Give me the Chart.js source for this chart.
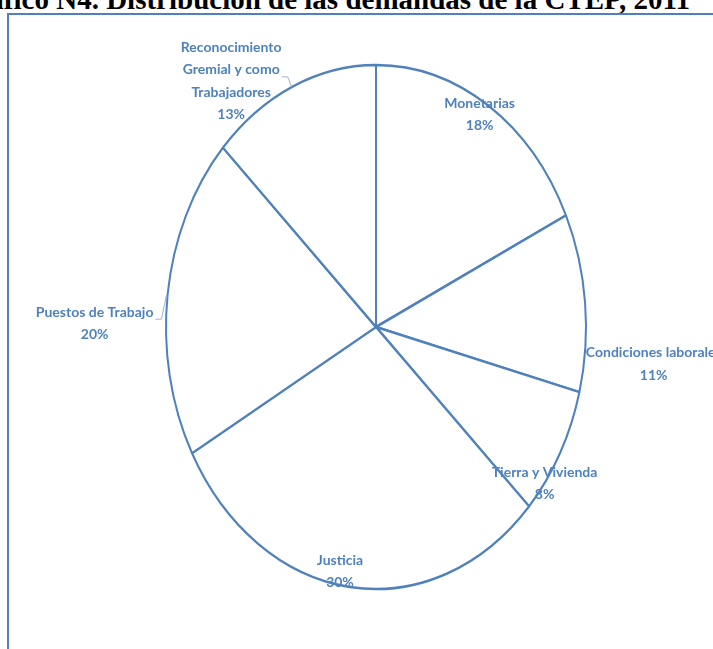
<!DOCTYPE html>
<html>
<head>
<meta charset="utf-8">
<script src="https://cdn.jsdelivr.net/npm/chart.js@4.4.1/dist/chart.umd.min.js"></script>
<style>
    html, body { margin: 0; padding: 0; background: #fff; overflow: hidden; }
    #wrap { position: relative; width: 713px; height: 649px; }
    #frame {
        position: absolute; left: 7px; top: 13px; width: 720px; height: 660px;
        border-left: 2px solid #4F81BD; border-top: 2px solid #4F81BD;
    }
    #title {
        position: absolute; right: 23px; top: -15px; white-space: nowrap;
        font: bold 29px/29px "Liberation Serif", "Times New Roman", serif; color: #000;
    }
    canvas { position: absolute; left: 0; top: 0; }
</style>
</head>
<body>
<div id="wrap">
    <div id="title">Gráfico N4. Distribución de las demandas de la CTEP, 2011</div>
    <div id="frame"></div>
    <canvas id="pie-canv" width="713" height="649"></canvas>
</div>
<script>
const categories = [
    'Monetarias',
    'Condiciones laborales',
    'Tierra y Vivienda',
    'Justicia',
    'Puestos de Trabajo',
    ['Reconocimiento', 'Gremial y como', 'Trabajadores'],
    ];
const shares = [18, 11, 8, 30, 20, 13];
const pctLabels = ['18%', '11%', '8%', '30%', '20%', '13%'];

const line_blue = '#4F81BD';
const text_blue = '#4F81BD';
const rx = 210;
const ry = 262;

// where each label sits, relative to its slice (degrees turned, share of radius)
const labelShift = [-1.1, 11.5, 7.8, 3.2, -6.6, -12.9];
const labelReach = [0.95, 1.33, 1.0, 0.95, 1.34, 1.165];
const hasLeader = [false, false, false, false, true, true];

// squash the round pie into the tall ellipse of the original
const ellipsePlugin = {
    id: 'ellipse',
    beforeDatasetsDraw(chart) {
        const arc = chart.getDatasetMeta(0).data[0];
        const ctx = chart.ctx;
        ctx.save();
        ctx.translate(arc.x, arc.y);
        ctx.scale(1, ry / rx);
        ctx.translate(-arc.x, -arc.y);
    },
    afterDatasetsDraw(chart) {
        chart.ctx.restore();
    }
};

const labelPlugin = {
    id: 'sliceLabels',
    afterDraw(chart) {
        const ctx = chart.ctx;
        const arcs = chart.getDatasetMeta(0).data;
        ctx.save();
        ctx.font = "bold 14px Lato, 'Noto Sans', sans-serif";
        ctx.fillStyle = text_blue;
        ctx.textAlign = 'center';
        ctx.textBaseline = 'middle';
        const lineH = 22.3;
        arcs.forEach((arc, i) => {
            const mid = (arc.startAngle + arc.endAngle) / 2;
            const a = mid + labelShift[i] * Math.PI / 180;
            const x = arc.x + rx * labelReach[i] * Math.cos(a);
            const y = arc.y + ry * labelReach[i] * Math.sin(a);
            const name = Array.isArray(categories[i]) ? categories[i] : [categories[i]];
            const lines = name.concat([pctLabels[i]]);
            const top = y - (lines.length - 1) * lineH / 2;
            lines.forEach((t, k) => ctx.fillText(t, x, top + k * lineH));

            if (hasLeader[i]) {
                const k = Math.max(0, name.length - 2);
                const w = ctx.measureText(lines[k]).width;
                const sx = x + w / 2 + 2;
                const sy = top + k * lineH + 7;
                const ex = arc.x + rx * Math.cos(mid);
                const ey = arc.y + ry * Math.sin(mid);
                ctx.strokeStyle = '#9bb3d3';
                ctx.lineWidth = 1;
                ctx.beginPath();
                ctx.moveTo(sx, sy);
                ctx.lineTo(sx + 6, sy);
                ctx.lineTo(ex - 1, ey);
                ctx.stroke();
            }
        });
        ctx.restore();
    }
};

const data = {
    labels: categories,
    datasets: [{
        data: shares,
        backgroundColor: '#ffffff',
        borderColor: line_blue,
        borderWidth: 2,
        radius: rx,
        }]
    };

const config = {
    type: 'pie',
    data,
    options: {
        responsive: false,
        animation: false,
        events: [],
        layout: {
            padding: { left: 39, right: 0, top: 5, bottom: 0 }
        },
        plugins: {
            legend: { display: false },
            tooltip: { enabled: false }
        }
    },
    plugins: [ellipsePlugin, labelPlugin]
    };

var myChart = new Chart(
    document.getElementById('pie-canv'),
    config
);
</script>
</body>
</html>
